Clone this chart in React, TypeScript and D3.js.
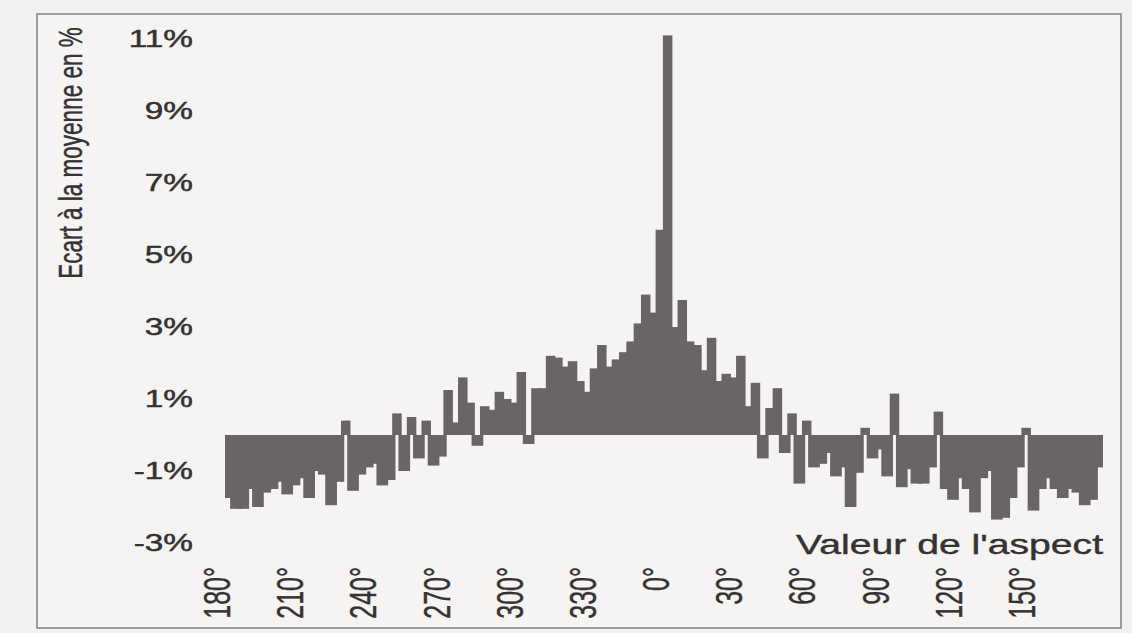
import React from "react";
import * as d3 from "d3";

// Deviation from the mean (%) per 3° aspect bin, starting at 180° and going round to 177°
const deviation: number[] = [
  -1.75, -2.05, -2.05, -1.5, -2.0, -1.6, -1.5, -1.3, -1.65, -1.4,
  -1.2, -1.75, -1.0, -1.1, -1.95, -1.3, 0.4, -1.55, -1.1, -0.9,
  -0.8, -1.4, -1.25, 0.6, -1.0, 0.5, -0.65, 0.4, -0.85, -0.6,
  1.25, 0.35, 1.6, 0.9, -0.3, 0.8, 0.7, 1.2, 1.0, 0.9,
  1.75, -0.25, 1.3, 1.3, 2.2, 2.15, 1.9, 2.05, 1.5, 1.2,
  1.85, 2.5, 1.9, 2.1, 2.3, 2.6, 3.1, 3.9, 3.4, 5.7,
  11.1, 3.0, 3.75, 2.6, 2.5, 1.8, 2.7, 1.5, 1.7, 1.6,
  2.2, 0.8, 1.45, -0.65, 0.75, 1.3, -0.5, 0.6, -1.35, 0.4,
  -0.9, -0.8, -0.5, -1.15, -0.9, -2.0, -1.05, 0.2, -0.65, -0.4,
  -1.15, 1.15, -1.45, -0.95, -1.35, -1.35, -0.9, 0.65, -1.5, -1.8,
  -1.2, -1.5, -2.15, -1.2, -1.0, -2.35, -2.3, -1.75, -0.9, 0.2,
  -2.1, -1.5, -1.2, -1.5, -1.75, -1.5, -1.6, -1.95, -1.8, -0.9,
];

const binSize = 3;
const binStarts: number[] = deviation.map((_, i) => (180 + binSize * i) % 360);

const xTickAngles: number[] = [180, 210, 240, 270, 300, 330, 0, 30, 60, 90, 120, 150];
const xTickLabels: string[] = ["180°", "210°", "240°", "270°", "300°", "330°", "0°", "30°", "60°", "90°", "120°", "150°"];
const yTicks: number[] = [11, 9, 7, 5, 3, 1, -1, -3];
const yTickLabels: string[] = ["11%", "9%", "7%", "5%", "3%", "1%", "-1%", "-3%"];

const W = 1132;
const H = 633;
const FONT = "'Liberation Sans', Arial, Helvetica, sans-serif";
const TEXT = "#343232";
const BAR = "#6a6565";
const SX = 1.45; // horizontal stretch of the scanned picture
const NEG_OVERLAP = 1.6; // printed bars overlap their neighbours
const POS_OVERLAP = 1.3;

export default function App() {
  const x = d3
    .scaleBand<number>()
    .domain(binStarts)
    .range([225, 1103])
    .paddingInner(0)
    .paddingOuter(0);
  const y = d3.scaleLinear().domain([-3, 11]).range([543, 39]);
  const y0 = y(0);
  const bw = x.bandwidth();
  const [xMin, xMax] = x.range();

  const bar = (v: number, i: number, f: number) => {
    const b = binStarts[i];
    const cx = x(b)! + bw / 2;
    let x0 = cx - (bw * f) / 2;
    let x1 = cx + (bw * f) / 2;
    x0 = Math.max(x0, xMin);
    x1 = Math.min(x1, xMax);
    const top = v >= 0 ? y(v) : y0;
    const h = Math.abs(y(v) - y0);
    return <rect key={i} x={x0} y={top} width={x1 - x0} height={Math.max(h, 0.5)} fill={BAR} />;
  };

  const textStyle = { stroke: TEXT, strokeWidth: 0.45 } as const;

  return (
    <div style={{ position: "fixed", left: 0, top: 0, width: W, height: H }}>
      <svg width={W} height={H} style={{ display: "block", background: "#f3f2f1" }}>
        <rect x={0} y={0} width={W} height={H} fill="#f3f2f1" />
        <rect x={37} y={14} width={1084} height={614} fill="#f5f4f3" stroke="#8a8888" strokeWidth={1.6} />

        {/* negative bars below, positive bars on top */}
        <g>{deviation.map((v, i) => (v < 0 ? bar(v, i, NEG_OVERLAP) : null))}</g>
        <g>{deviation.map((v, i) => (v >= 0 ? bar(v, i, POS_OVERLAP) : null))}</g>

        {/* y tick labels */}
        <g fontFamily={FONT} fontSize={23} fill={TEXT} style={textStyle}>
          {yTicks.map((t, i) => (
            <text
              key={t}
              transform={`translate(193,${y(t)}) scale(${SX},1)`}
              textAnchor="end"
              dy="0.36em"
            >
              {yTickLabels[i]}
            </text>
          ))}
        </g>

        {/* y axis title */}
        <text
          transform={`translate(70,153) scale(${SX},1) rotate(-90)`}
          textAnchor="middle"
          dy="0.36em"
          fontFamily={FONT}
          fontSize={22.5}
          fill={TEXT}
          style={{ stroke: TEXT, strokeWidth: 0.3 }}
        >
          Ecart à la moyenne en %
        </text>

        {/* x tick labels */}
        <g fontFamily={FONT} fontSize={25} fill={TEXT} style={{ stroke: TEXT, strokeWidth: 0.3 }}>
          {xTickAngles.map((a, i) => (
            <text
              key={a}
              transform={`translate(${x(a)! - 8},567) scale(${SX},1) rotate(-90)`}
              textAnchor="end"
              dy="0.36em"
            >
              {xTickLabels[i]}
            </text>
          ))}
        </g>

        {/* x axis title */}
        <text
          transform={`translate(1103,554) scale(${SX},1)`}
          textAnchor="end"
          fontFamily={FONT}
          fontSize={27}
          fill={TEXT}
          style={{ stroke: TEXT, strokeWidth: 0.4 }}
        >
          Valeur de l'aspect
        </text>
      </svg>
    </div>
  );
}
